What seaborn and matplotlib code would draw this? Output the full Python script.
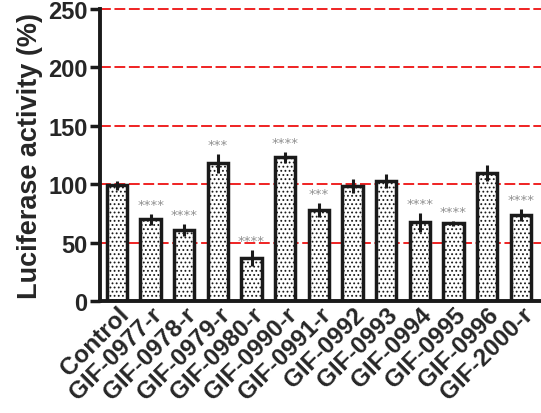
import numpy as np
import matplotlib
matplotlib.use("Agg")
import matplotlib.pyplot as plt
import seaborn as sns
import pandas as pd

labels = ["Control", "GIF-0977-r", "GIF-0978-r", "GIF-0979-r", "GIF-0980-r",
          "GIF-0990-r", "GIF-0991-r", "GIF-0992", "GIF-0993", "GIF-0994",
          "GIF-0995", "GIF-0996", "GIF-2000-r"]
values = [99, 70, 61, 118, 37, 123, 78, 98.5, 103, 67.5, 66.5, 109.5, 74]
errors = [4, 5, 5, 8, 7, 5, 6, 6, 6, 8, 2.5, 7, 5]
stars = ["", "****", "****", "***", "****", "****", "***", "", "",
         "****", "****", "", "****"]

sns.set_style("ticks")
plt.rcParams['font.family'] = ['Liberation Sans', 'DejaVu Sans']
plt.rcParams['hatch.linewidth'] = 0.8

df = pd.DataFrame({"group": labels, "value": values})

fig = plt.figure(figsize=(5.41, 4.14), dpi=100)
ax = fig.add_axes([0.185, 0.27, 0.815, 0.706])

for y in [50, 100, 150, 200, 250]:
    ax.axhline(y, color="#ee1111", lw=1.3, ls=(0, (6, 2)), zorder=0,
               clip_on=False)

sns.barplot(data=df, x="group", y="value", ax=ax, color="white",
            edgecolor="#1a1a1a", linewidth=2.5, width=0.6, zorder=2)
for p in ax.patches:
    p.set_hatch("....")

xs = np.arange(len(labels))
ax.errorbar(xs, values, yerr=errors, fmt="none", ecolor="#1a1a1a",
            elinewidth=2.2, capsize=0, zorder=3)

for x, v, e, s in zip(xs, values, errors, stars):
    if s:
        ax.text(x, v + e + 2.5, s, ha="center", va="bottom", fontsize=9.5,
                color="#8f8f8f", family="DejaVu Sans")

ax.set_ylim(0, 250)
ax.set_xlim(-0.5, 12.6)
ax.set_yticks([0, 50, 100, 150, 200, 250])
ax.set_xlabel("")
ax.set_ylabel("Luciferase activity (%)", fontsize=19.5, fontweight="bold",
              labelpad=4)
ax.tick_params(axis="y", labelsize=17, width=2.5, length=7, pad=2,
               color="#1a1a1a")
ax.tick_params(axis="x", labelsize=17.5, length=0, pad=1)
for t in ax.get_yticklabels():
    t.set_fontweight("bold")
ax.set_xticks(xs)
ax.set_xticklabels(labels, rotation=45, ha="right", rotation_mode="anchor",
                   fontweight="bold")
sns.despine(ax=ax)
for sp in ["left", "bottom"]:
    ax.spines[sp].set_linewidth(2.8)
    ax.spines[sp].set_color("#1a1a1a")

fig.savefig("out.png", dpi=100)
